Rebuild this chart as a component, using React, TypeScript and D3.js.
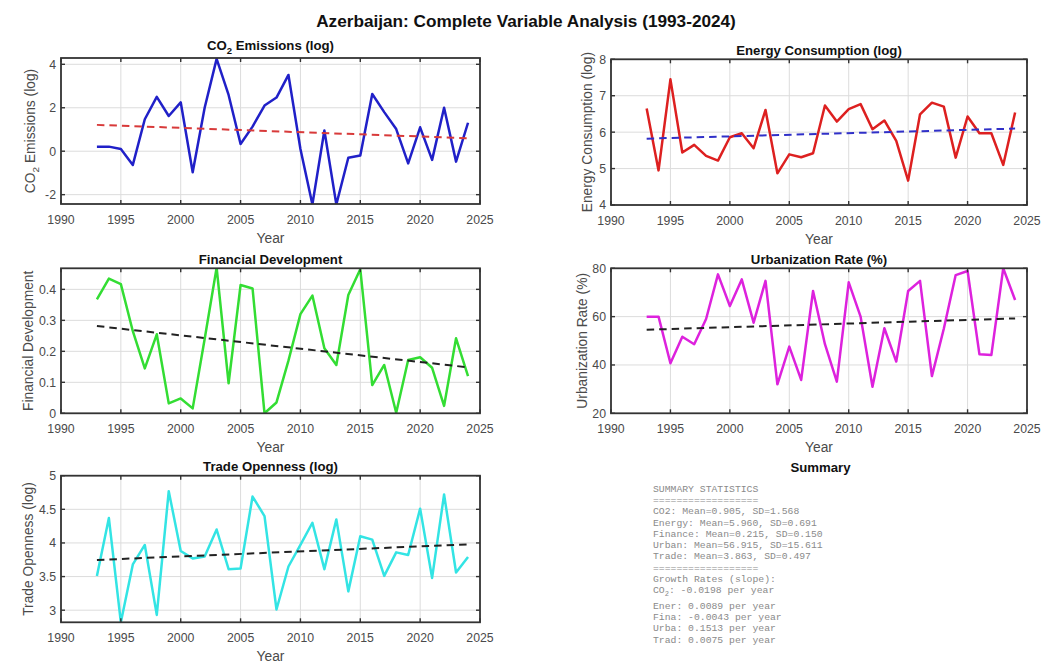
import React from "react";
import * as d3 from "d3";

// Annual observations, 1993-2024
const years = [
  1993, 1994, 1995, 1996, 1997, 1998, 1999, 2000, 2001, 2002, 2003, 2004, 2005, 2006, 2007, 2008,
  2009, 2010, 2011, 2012, 2013, 2014, 2015, 2016, 2017, 2018, 2019, 2020, 2021, 2022, 2023, 2024,
];

const co2Log = [
  0.21, 0.21, 0.1, -0.63, 1.47, 2.5, 1.62, 2.25, -0.97, 2.0, 4.25, 2.59, 0.33, 1.13, 2.1, 2.47,
  3.51, 0.1, -2.45, 0.95, -2.45, -0.3, -0.2, 2.63, 1.8, 1.02, -0.56, 1.1, -0.4, 2.0, -0.48, 1.31,
];

const energyLog = [
  6.65, 4.95, 7.45, 5.44, 5.65, 5.35, 5.22, 5.86, 5.97, 5.56, 6.61, 4.87, 5.39, 5.31, 5.42, 6.73,
  6.29, 6.63, 6.77, 6.08, 6.32, 5.76, 4.67, 6.49, 6.81, 6.7, 5.3, 6.43, 5.97, 5.97, 5.1, 6.54,
];

const financeDev = [
  0.368, 0.435, 0.417, 0.265, 0.145, 0.255, 0.032, 0.048, 0.016, 0.24, 0.47, 0.097, 0.414, 0.403,
  0.0, 0.035, 0.17, 0.32, 0.38, 0.21, 0.156, 0.382, 0.465, 0.091, 0.156, 0.002, 0.172, 0.181,
  0.147, 0.024, 0.242, 0.12,
];

const urbanRate = [
  60.0, 60.0, 40.7, 51.7, 48.6, 59.0, 77.5, 64.4, 75.4, 57.5, 74.8, 32.0, 47.6, 33.8, 70.6, 48.6,
  33.1, 74.2, 60.0, 31.0, 55.2, 41.4, 70.6, 74.8, 35.4, 55.0, 77.2, 78.9, 44.4, 44.1, 80.0, 66.9,
];

const tradeLog = [
  3.51, 4.37, 2.82, 3.68, 3.97, 2.93, 4.77, 3.88, 3.77, 3.8, 4.2, 3.61, 3.62, 4.69, 4.4, 3.01,
  3.65, 3.97, 4.3, 3.61, 4.35, 3.28, 4.1, 4.05, 3.51, 3.86, 3.82, 4.51, 3.48, 4.72, 3.56, 3.79,
];

// Summary statistics (CO2, Energy, Finance, Urban, Trade)
const statNames = ["CO2", "Energy", "Finance", "Urban", "Trade"];
const slopeNames = ["CO_2", "Ener", "Fina", "Urba", "Trad"];
const statMeans = [0.905, 5.96, 0.215, 56.915, 3.863];
const statSDs = [1.568, 0.691, 0.15, 15.611, 0.497];
const statSlopes = [-0.0198, 0.0089, -0.0043, 0.1513, 0.0075];

// Axis ticks
const yearTicks = [1990, 1995, 2000, 2005, 2010, 2015, 2020, 2025];
const co2Ticks = [-2, 0, 2, 4];
const energyTicks = [4, 5, 6, 7, 8];
const financeTicks = [0, 0.1, 0.2, 0.3, 0.4];
const urbanTicks = [20, 40, 60, 80];
const tradeTicks = [3, 3.5, 4, 4.5, 5];

const FONT = "'Liberation Sans', Arial, Helvetica, sans-serif";
const AXIS_COLOR = "#333333";
const TEXT_COLOR = "#4a4a4a";
const GRID_COLOR = "#dcdcdc";
const LABEL_SIZE = 13.8;

type Box = { x0: number; x1: number; y0: number; y1: number };

type PanelSpec = {
  id: string;
  title: string;
  ylabel: string;
  values: number[];
  ticks: number[];
  domain: [number, number];
  color: string;
  trendColor: string;
  statIndex: number;
  box: Box;
  ylabelX: number;
  titleRaise: number;
};

// Render a string where "_2" marks a subscript 2 (TeX style)
function TexText({ text, size }: { text: string; size: number }) {
  const parts = text.split("_2");
  const out: React.ReactNode[] = [];
  parts.forEach((part, i) => {
    if (i > 0) {
      out.push(
        <tspan key={`s${i}`} dy={size * 0.28} fontSize={size * 0.72}>
          2
        </tspan>
      );
      out.push(
        <tspan key={`p${i}`} dy={-size * 0.28}>
          {part}
        </tspan>
      );
    } else {
      out.push(<tspan key={`p${i}`}>{part}</tspan>);
    }
  });
  return <>{out}</>;
}

function Panel({ spec }: { spec: PanelSpec }) {
  const { box } = spec;
  const x = d3.scaleLinear().domain([1990, 2025]).range([box.x0, box.x1]);
  const y = d3.scaleLinear().domain(spec.domain).range([box.y1, box.y0]);

  const line = d3
    .line<number>()
    .x((_, i) => x(years[i]))
    .y((d) => y(d));

  const meanYear = d3.mean(years) as number;
  const mean = statMeans[spec.statIndex];
  const slope = statSlopes[spec.statIndex];
  const trendYears = [years[0], years[years.length - 1]];
  const trendLine = d3
    .line<number>()
    .x((yr) => x(yr))
    .y((yr) => y(mean + slope * (yr - meanYear)));

  const clipId = `clip-${spec.id}`;
  const tickLen = 4;
  const midX = (box.x0 + box.x1) / 2;
  const midY = (box.y0 + box.y1) / 2;

  return (
    <g>
      <defs>
        <clipPath id={clipId}>
          <rect x={box.x0} y={box.y0} width={box.x1 - box.x0} height={box.y1 - box.y0} />
        </clipPath>
      </defs>
      <rect x={box.x0} y={box.y0} width={box.x1 - box.x0} height={box.y1 - box.y0} fill="#fff" />
      {/* grid */}
      {yearTicks.map((t) => (
        <line key={`gx${t}`} x1={x(t)} x2={x(t)} y1={box.y0} y2={box.y1} stroke={GRID_COLOR} strokeWidth={1} />
      ))}
      {spec.ticks.map((t) => (
        <line key={`gy${t}`} x1={box.x0} x2={box.x1} y1={y(t)} y2={y(t)} stroke={GRID_COLOR} strokeWidth={1} />
      ))}
      {/* series and linear trend */}
      <g clipPath={`url(#${clipId})`}>
        <path d={line(spec.values) ?? ""} fill="none" stroke={spec.color} strokeWidth={2.5} strokeLinejoin="round" />
        <path
          d={trendLine(trendYears) ?? ""}
          fill="none"
          stroke={spec.trendColor}
          strokeWidth={2}
          strokeDasharray="7.5 5"
        />
      </g>
      {/* box */}
      <rect
        x={box.x0}
        y={box.y0}
        width={box.x1 - box.x0}
        height={box.y1 - box.y0}
        fill="none"
        stroke={AXIS_COLOR}
        strokeWidth={1.8}
      />
      {/* inward ticks on all sides */}
      {yearTicks.map((t) => (
        <g key={`tx${t}`}>
          <line x1={x(t)} x2={x(t)} y1={box.y1} y2={box.y1 - tickLen} stroke={AXIS_COLOR} strokeWidth={1.4} />
          <line x1={x(t)} x2={x(t)} y1={box.y0} y2={box.y0 + tickLen} stroke={AXIS_COLOR} strokeWidth={1.4} />
          <text
            x={x(t)}
            y={box.y1 + 19.5}
            textAnchor="middle"
            fontSize={12.3}
            fill={TEXT_COLOR}
            fontFamily={FONT}
          >
            {t}
          </text>
        </g>
      ))}
      {spec.ticks.map((t) => (
        <g key={`ty${t}`}>
          <line x1={box.x0} x2={box.x0 + tickLen} y1={y(t)} y2={y(t)} stroke={AXIS_COLOR} strokeWidth={1.4} />
          <line x1={box.x1} x2={box.x1 - tickLen} y1={y(t)} y2={y(t)} stroke={AXIS_COLOR} strokeWidth={1.4} />
          <text
            x={box.x0 - 5}
            y={y(t) + 4.4}
            textAnchor="end"
            fontSize={12.3}
            fill={TEXT_COLOR}
            fontFamily={FONT}
          >
            {String(t)}
          </text>
        </g>
      ))}
      {/* labels */}
      <text
        x={midX}
        y={box.y0 - 4.3 - spec.titleRaise}
        textAnchor="middle"
        fontSize={13.2}
        fontWeight="bold"
        fill="#111"
        fontFamily={FONT}
      >
        <TexText text={spec.title} size={13.2} />
      </text>
      <text
        x={midX}
        y={box.y1 + 38.9}
        textAnchor="middle"
        fontSize={LABEL_SIZE}
        fill={TEXT_COLOR}
        fontFamily={FONT}
      >
        Year
      </text>
      <text
        transform={`translate(${spec.ylabelX},${midY}) rotate(-90)`}
        textAnchor="middle"
        fontSize={LABEL_SIZE}
        fill={TEXT_COLOR}
        fontFamily={FONT}
      >
        <TexText text={spec.ylabel} size={LABEL_SIZE} />
      </text>
    </g>
  );
}

export default function App() {
  const leftCol = { x0: 61, x1: 480 };
  const rightCol = { x0: 611, x1: 1027 };

  const panels: PanelSpec[] = [
    {
      id: "co2",
      title: "CO_2 Emissions (log)",
      ylabel: "CO_2 Emissions (log)",
      values: co2Log,
      ticks: co2Ticks,
      domain: [-2.43, 4.29],
      color: "#2020c8",
      trendColor: "#d83a3a",
      statIndex: 0,
      box: { ...leftCol, y0: 58, y1: 204 },
      ylabelX: 35,
      titleRaise: 3.8,
    },
    {
      id: "energy",
      title: "Energy Consumption (log)",
      ylabel: "Energy Consumption (log)",
      values: energyLog,
      ticks: energyTicks,
      domain: [4, 8],
      color: "#dd2020",
      trendColor: "#3030c8",
      statIndex: 1,
      box: { ...rightCol, y0: 59.3, y1: 205 },
      ylabelX: 591.5,
      titleRaise: 0,
    },
    {
      id: "finance",
      title: "Financial Development",
      ylabel: "Financial Development",
      values: financeDev,
      ticks: financeTicks,
      domain: [0, 0.468],
      color: "#33dd33",
      trendColor: "#222222",
      statIndex: 2,
      box: { ...leftCol, y0: 268.3, y1: 413.3 },
      ylabelX: 33,
      titleRaise: 0,
    },
    {
      id: "urban",
      title: "Urbanization Rate (%)",
      ylabel: "Urbanization Rate (%)",
      values: urbanRate,
      ticks: urbanTicks,
      domain: [20, 80],
      color: "#dd22dd",
      trendColor: "#222222",
      statIndex: 3,
      box: { ...rightCol, y0: 268.3, y1: 413.3 },
      ylabelX: 586.5,
      titleRaise: 0,
    },
    {
      id: "trade",
      title: "Trade Openness (log)",
      ylabel: "Trade Openness (log)",
      values: tradeLog,
      ticks: tradeTicks,
      domain: [2.82, 5],
      color: "#33e4e4",
      trendColor: "#222222",
      statIndex: 4,
      box: { ...leftCol, y0: 475.7, y1: 622.3 },
      ylabelX: 33,
      titleRaise: 0,
    },
  ];

  // Summary text block
  const rule = "=".repeat(18);
  const summaryLines: string[] = [
    "SUMMARY STATISTICS",
    rule,
    ...statNames.map(
      (n, i) => `${n}: Mean=${statMeans[i].toFixed(3)}, SD=${statSDs[i].toFixed(3)}`
    ),
    rule,
    "Growth Rates (slope):",
    ...slopeNames.map((n, i) => `${n}: ${statSlopes[i].toFixed(4)} per year`),
  ];
  const sumX = 653;
  const sumY0 = 491.6;
  const lineGap = 11.3;

  return (
    <svg
      width={1047}
      height={665}
      viewBox="0 0 1047 665"
      style={{ position: "absolute", left: 0, top: 0, background: "#fff" }}
    >
      <rect x={0} y={0} width={1047} height={665} fill="#fff" />
      <text
        x={526}
        y={26.7}
        textAnchor="middle"
        fontSize={17.2}
        fontWeight="bold"
        fill="#111"
        fontFamily={FONT}
      >
        Azerbaijan: Complete Variable Analysis (1993-2024)
      </text>
      {panels.map((p) => (
        <Panel key={p.id} spec={p} />
      ))}
      <text
        x={820.5}
        y={471.7}
        textAnchor="middle"
        fontSize={13.2}
        fontWeight="bold"
        fill="#111"
        fontFamily={FONT}
      >
        Summary
      </text>
      {summaryLines.map((ln, i) => (
        <text
          key={i}
          x={sumX}
          y={sumY0 + i * lineGap + (i >= 10 ? 4 : 0)}
          fontSize={9.75}
          fill="#8a8a8a"
          fontFamily="'Liberation Mono', 'DejaVu Sans Mono', monospace"
          xmlSpace="preserve"
        >
          <TexText text={ln} size={9.75} />
        </text>
      ))}
    </svg>
  );
}
